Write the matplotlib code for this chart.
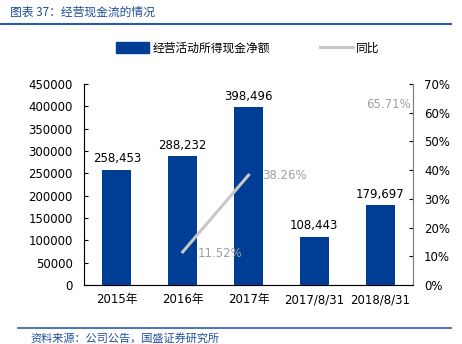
import matplotlib.pyplot as plt
from matplotlib.lines import Line2D
from matplotlib.patches import Patch
import numpy as np

plt.rcParams['font.family'] = ['DejaVu Sans', 'Noto Sans CJK SC']

categories = ["2015年", "2016年", "2017年", "2017/8/31", "2018/8/31"]
cash_flow = [258453, 288232, 398496, 108443, 179697]
yoy = [np.nan, 11.52, 38.26, np.nan, 65.71]

bar_color = "#003E96"
line_color = "#C8C8C8"
pct_color = "#A0A0A0"
title_color = "#1F4E9A"

fig = plt.figure(figsize=(4.62, 3.44), dpi=100)
ax = fig.add_axes([84 / 462, 1 - 285 / 344, 329 / 462, 201 / 344])
ax2 = ax.twinx()

x = np.arange(len(categories))
ax.bar(x, cash_flow, width=0.44, color=bar_color, zorder=2)
for xi, v in zip(x, cash_flow):
    ax.annotate(f"{v:,}", (xi, v), xytext=(0, 3), textcoords="offset points",
                ha="center", va="bottom", fontsize=8.5, color="black")

ax.set_xlim(-0.5, len(categories) - 0.5)
ax.set_ylim(0, 450000)
ax.set_yticks(np.arange(0, 450001, 50000))
ax.set_xticks(x)
ax.set_xticklabels(categories, family=['DejaVu Sans', 'Noto Sans CJK SC'])
ax.tick_params(axis="y", direction="in", length=3, labelsize=8.5, pad=8)
ax.tick_params(axis="x", length=0, labelsize=8.5, pad=6)
ax.spines["top"].set_visible(False)
for s in ["left", "bottom", "right"]:
    ax.spines[s].set_color("#808080")
    ax.spines[s].set_linewidth(0.8)

ax2.plot(x, yoy, color=line_color, linewidth=2.2, zorder=3)
offsets = {1: (11, -1), 2: (10, 0), 4: (-10, -6)}
for xi, v in zip(x, yoy):
    if not np.isnan(v):
        ax2.annotate(f"{v:.2f}%", (xi, v), xytext=offsets[xi], textcoords="offset points",
                     ha="left", va="center", fontsize=8.5, color=pct_color)
ax2.set_ylim(0, 70)
ax2.set_yticks(np.arange(0, 71, 10))
ax2.set_yticklabels([f"{t}%" for t in range(0, 71, 10)])
ax2.tick_params(axis="y", direction="in", length=3, labelsize=8.5, pad=8)
ax2.spines["top"].set_visible(False)
ax2.spines["right"].set_color("#808080")
ax2.spines["right"].set_linewidth(0.8)

handles = [Patch(facecolor=bar_color, edgecolor=bar_color),
           Line2D([0], [0], color=line_color, linewidth=2.2)]
fig.legend(handles, ["经营活动所得现金净额", "同比"], loc="center",
           bbox_to_anchor=(248 / 462, 1 - 48 / 344), ncol=2, frameon=False,
           handlelength=2.8, handleheight=1.0, columnspacing=4.2,
           handletextpad=0.3, prop={'family': ['Noto Sans CJK SC'], 'size': 8.5})

fig.text(10 / 462, 1 - 12 / 344, "图表 37：经营现金流的情况", color=title_color,
         fontsize=8.5, style="italic", va="center", ha="left",
         family=['Noto Sans CJK SC'])
fig.add_artist(Line2D([0, 451 / 462], [1 - 24 / 344] * 2, color="#2A5CA8", linewidth=1.5))
fig.add_artist(Line2D([18 / 462, 451 / 462], [1 - 328 / 344] * 2, color="#2A5CA8", linewidth=1.2))
fig.text(30 / 462, 1 - 338 / 344, "资料来源：公司公告，国盛证券研究所", color=title_color,
         fontsize=8, style="italic", va="center", ha="left",
         family=['Noto Sans CJK SC'])

fig.savefig("out.png", dpi=100)
